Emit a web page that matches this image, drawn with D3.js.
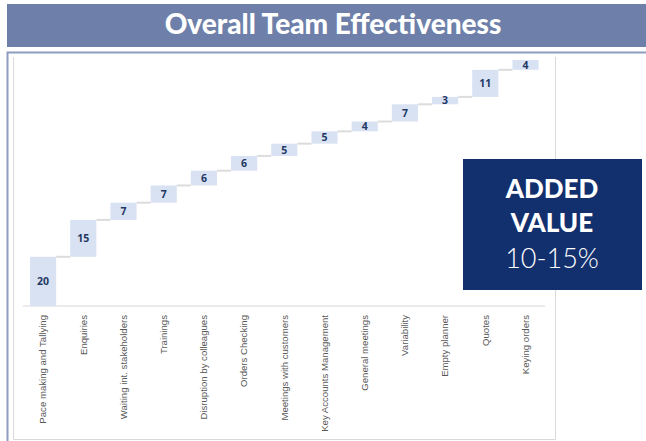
<!DOCTYPE html>
<html>
<head>
<meta charset="utf-8">
<script src="https://cdn.jsdelivr.net/npm/d3@7/dist/d3.min.js"></script>
<style>
  body { margin: 0; background: #fff; }
  svg { display: block; }
</style>
</head>
<body>
<svg id="chart" width="646" height="441"></svg>
<script>
// categories and time share (%) of each activity, sums to 100
const categories = [
    "Pace making and Tallying", "Enquiries", "Waiting int. stakeholders", "Trainings",
    "Disruption by colleagues", "Orders Checking", "Meetings with customers",
    "Key Accounts Management", "General meetings", "Variability", "Empty planner",
    "Quotes", "Keying orders"
];
const values = [20, 15, 7, 7, 6, 6, 5, 5, 4, 7, 3, 11, 4];

const title = "Overall Team Effectiveness";
const calloutLines = ["ADDED", "VALUE"];
const calloutRange = "10-15%";

const svg = d3.select("#chart");

// title bar
svg.append("rect")
    .attr("x", 7).attr("y", 4)
    .attr("width", 639).attr("height", 43)
    .attr("fill", "#6e80a9");
svg.append("text")
    .attr("x", 333).attr("y", 34)
    .attr("text-anchor", "middle")
    .attr("font-family", "Lato, sans-serif")
    .attr("font-weight", 900)
    .attr("font-size", "28px")
    .attr("fill", "#fff")
    .text(title);

// outer frame (blue-ish) and inner chart frame (gray)
svg.append("path")
    .attr("d", "M7.5,441 V52.5 H646")
    .attr("fill", "none")
    .attr("stroke", "#8d9cc0")
    .attr("stroke-width", 2);
svg.append("path")
    .attr("d", "M13.5,57 V439.5 H555.5 V57")
    .attr("fill", "none")
    .attr("stroke", "#d9d9d9")
    .attr("stroke-width", 1);

// running totals for the waterfall
let acc = 0;
const steps = values.map((v, i) => {
    const s = {name: categories[i], value: v, start: acc, end: acc + v};
    acc += v;
    return s;
});

const x = d3.scaleBand()
    .domain(categories)
    .range([23, 545.6])
    .paddingInner(0.35)
    .paddingOuter(0.175);

const y = d3.scaleLinear()
    .domain([0, 100])
    .range([306, 60]);

const g = svg.append("g");

// baseline
g.append("line")
    .attr("x1", 23).attr("x2", 545)
    .attr("y1", y(0)).attr("y2", y(0))
    .attr("stroke", "#e4e4e4")
    .attr("stroke-width", 1.5);

// connectors between bars
g.selectAll("line.conn")
    .data(steps.slice(0, -1))
    .join("line")
    .attr("class", "conn")
    .attr("x1", d => x(d.name) + x.bandwidth())
    .attr("x2", (d, i) => x(categories[i + 1]))
    .attr("y1", d => y(d.end))
    .attr("y2", d => y(d.end))
    .attr("stroke", "#dcdcdc")
    .attr("stroke-width", 2);

// floating bars
g.selectAll("rect.bar")
    .data(steps)
    .join("rect")
    .attr("class", "bar")
    .attr("x", d => x(d.name))
    .attr("y", d => y(d.end))
    .attr("width", x.bandwidth())
    .attr("height", d => y(d.start) - y(d.end))
    .attr("fill", "#d9e2f3");

// value labels
g.selectAll("text.val")
    .data(steps)
    .join("text")
    .attr("class", "val")
    .attr("x", d => x(d.name) + x.bandwidth() / 2)
    .attr("y", d => (y(d.start) + y(d.end)) / 2)
    .attr("dy", "0.36em")
    .attr("text-anchor", "middle")
    .attr("font-family", "'Open Sans', sans-serif")
    .attr("font-weight", 700)
    .attr("font-size", "10.5px")
    .attr("fill", "#1f3864")
    .text(d => d.value);

// category axis, rotated labels
const xAxis = g.append("g")
    .attr("transform", `translate(0,${y(0)})`)
    .call(d3.axisBottom(x).tickSize(0).tickPadding(0));
xAxis.select(".domain").remove();
xAxis.selectAll("text")
    .attr("transform", "rotate(-90)")
    .attr("x", -9)
    .attr("y", 0)
    .attr("dy", "0.35em")
    .attr("text-anchor", "end")
    .attr("font-family", "'Liberation Sans', sans-serif")
    .attr("font-size", "9.6px")
    .attr("fill", "#595959");

// added value callout
svg.append("rect")
    .attr("x", 463).attr("y", 159)
    .attr("width", 179).attr("height", 131)
    .attr("fill", "#13306e");
svg.selectAll("text.callout")
    .data(calloutLines)
    .join("text")
    .attr("class", "callout")
    .attr("x", 552)
    .attr("y", (d, i) => 198 + i * 34)
    .attr("text-anchor", "middle")
    .attr("font-family", "Lato, sans-serif")
    .attr("font-weight", 900)
    .attr("font-size", "26px")
    .attr("fill", "#fff")
    .text(d => d);
svg.append("text")
    .attr("x", 552).attr("y", 268)
    .attr("text-anchor", "middle")
    .attr("font-family", "Lato, sans-serif")
    .attr("font-weight", 300)
    .attr("font-size", "27px")
    .attr("fill", "#fff")
    .text(calloutRange);
</script>
</body>
</html>
